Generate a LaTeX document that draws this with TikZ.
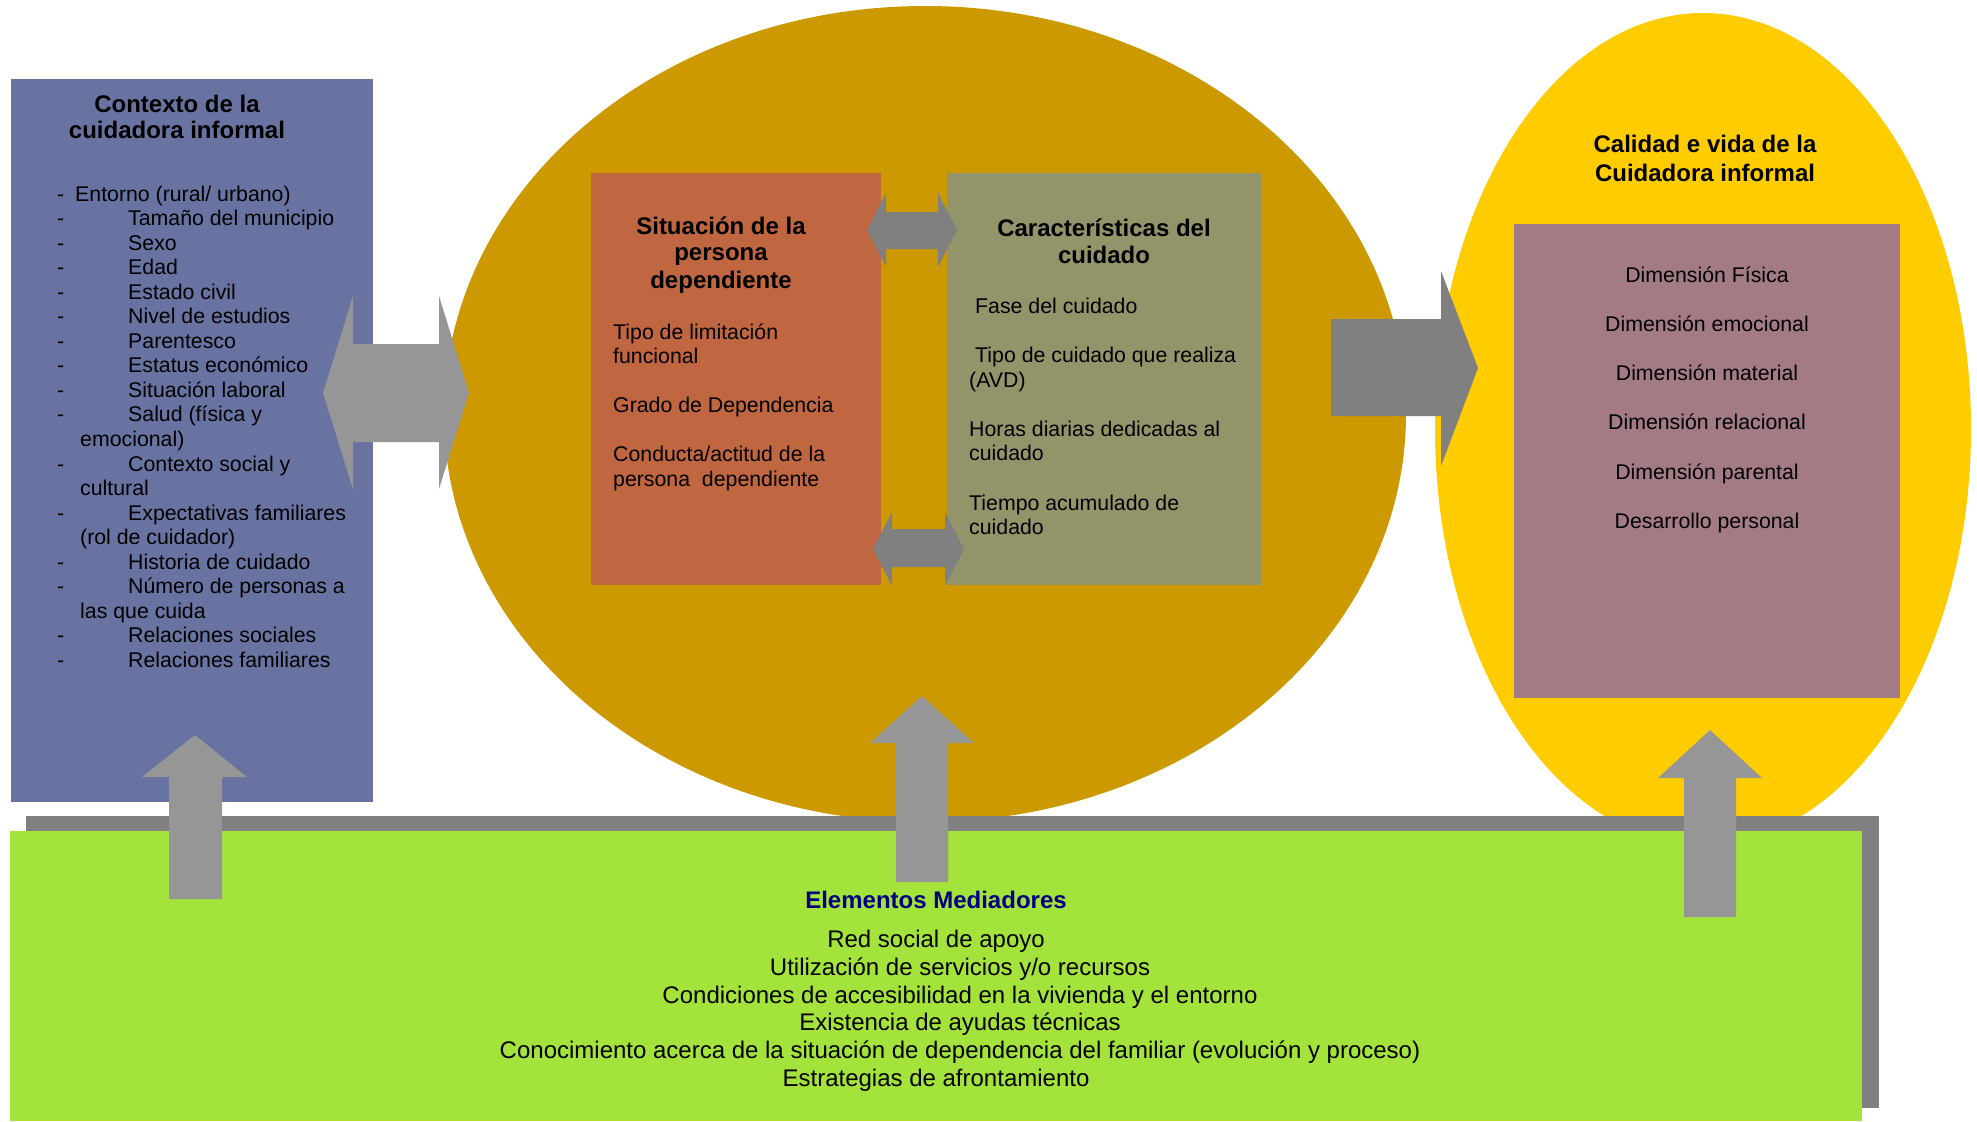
\documentclass[tikz,border=0pt]{standalone}
\usepackage{fontspec}
\setmainfont{Liberation Sans}
\definecolor{cblue}{HTML}{6973A1}
\definecolor{cochre}{HTML}{CC9900}
\definecolor{cyellow}{HTML}{FFCC00}
\definecolor{cmauve}{HTML}{A37B85}
\definecolor{corange}{HTML}{C06641}
\definecolor{colive}{HTML}{94946B}
\definecolor{cgreen}{HTML}{A3E33B}
\definecolor{cgreyA}{HTML}{969696}
\definecolor{cgreyB}{HTML}{808080}
\definecolor{cnavy}{HTML}{000080}
\tikzset{
  body/.style={font=\fontsize{21.3}{24}\selectfont, inner sep=0pt, anchor=base west},
  bodyc/.style={font=\fontsize{21.3}{24}\selectfont, inner sep=0pt, anchor=base},
  ttl/.style={font=\bfseries\fontsize{24}{27}\selectfont, inner sep=0pt, anchor=base},
  btm/.style={font=\fontsize{24}{27}\selectfont, inner sep=0pt, anchor=base},
  arrA/.style={fill=cgreyA, draw=none},
  arrB/.style={fill=cgreyB, draw=none},
}
\newcommand{\lstdash}[3]{%
  \node[body] (d#1) at (57,{201+24.55*#1}) {-};
  \node[body] (t#1) at (#2,{201+24.55*#1}) {#3};}
\newcommand{\lstcont}[2]{%
  \node[body] (t#1) at (80,{201+24.55*#1}) {#2};}
\begin{document}
\begin{tikzpicture}[x=1pt,y=-1pt]
\useasboundingbox (0,0) rectangle (1977,1121);
\fill[white] (0,0) rectangle (1977,1121);
% main shapes
\fill[cochre] (925,414) ellipse [x radius=481, y radius=408];
\fill[cyellow] (1703,429) ellipse [x radius=268, y radius=416];
\fill[cblue] (11,79) rectangle (373,802);
\fill[corange] (591,173) rectangle (881,585);
\fill[colive] (947,173) rectangle (1261,585);
\fill[cmauve] (1514,224) rectangle (1900,698);
% bottom box with shadow
\fill[cgreyB] (26,816) rectangle (1879,1108);
\fill[cgreen] (10,831) rectangle (1862,1121);
% left double arrow
\fill[arrA] (323,393) -- (353,296) -- (353,344) -- (439,344) -- (439,296) -- (469,393)
  -- (439,489) -- (439,442) -- (353,442) -- (353,489) -- cycle;
% small double arrows
\fill[arrB] (867,230) -- (886,193) -- (886,212) -- (938,212) -- (938,193) -- (957,230)
  -- (938,267) -- (938,249) -- (886,249) -- (886,267) -- cycle;
\fill[arrB] (873,549) -- (892,512) -- (892,529) -- (945,529) -- (945,512) -- (964,549)
  -- (945,586) -- (945,567) -- (892,567) -- (892,586) -- cycle;
% right arrow
\fill[arrB] (1331,319) -- (1441,319) -- (1441,271) -- (1478,368) -- (1441,466) -- (1441,416) -- (1331,416) -- cycle;
% up arrows
\fill[arrA] (195,735) -- (247,777) -- (222,777) -- (222,899) -- (169,899) -- (169,777) -- (142,777) -- cycle;
\fill[arrA] (922,696) -- (974,743) -- (948,743) -- (948,882) -- (896,882) -- (896,743) -- (870,743) -- cycle;
\fill[arrA] (1710,730) -- (1762,778) -- (1736,778) -- (1736,917) -- (1684,917) -- (1684,778) -- (1658,778) -- cycle;
% blue box text
\node[ttl] (bt1) at (177,113) {Contexto de la};
\node[ttl] (bt2) at (177,139) {cuidadora informal};
\lstdash{0}{75}{Entorno (rural/ urbano)}
\lstdash{1}{128}{Tamaño del municipio}
\lstdash{2}{128}{Sexo}
\lstdash{3}{128}{Edad}
\lstdash{4}{128}{Estado civil}
\lstdash{5}{128}{Nivel de estudios}
\lstdash{6}{128}{Parentesco}
\lstdash{7}{128}{Estatus económico}
\lstdash{8}{128}{Situación laboral}
\lstdash{9}{128}{Salud (física y}
\lstcont{10}{emocional)}
\lstdash{11}{128}{Contexto social y}
\lstcont{12}{cultural}
\lstdash{13}{128}{Expectativas familiares}
\lstcont{14}{(rol de cuidador)}
\lstdash{15}{128}{Historia de cuidado}
\lstdash{16}{128}{Número de personas a}
\lstcont{17}{las que cuida}
\lstdash{18}{128}{Relaciones sociales}
\lstdash{19}{128}{Relaciones familiares}
% orange box
\node[ttl] (ot1) at (721,234) {Situación de la};
\node[ttl] (ot2) at (721,260) {persona};
\node[ttl] (ot3) at (721,288) {dependiente};
\node[body] (o1) at (613,339) {Tipo de limitación};
\node[body] (o2) at (613,363) {funcional};
\node[body] (o3) at (613,412) {Grado de Dependencia};
\node[body] (o4) at (613,461) {Conducta/actitud de la};
\node[body] (o5) at (613,486) {persona\ \ dependiente};
% olive box
\node[ttl] (vt1) at (1104,236) {Características del};
\node[ttl] (vt2) at (1104,263) {cuidado};
\node[body] (v1) at (975,313) {Fase del cuidado};
\node[body] (v2) at (975,362) {Tipo de cuidado que realiza};
\node[body] (v3) at (969,387) {(AVD)};
\node[body] (v4) at (969,436) {Horas diarias dedicadas al};
\node[body] (v5) at (969,460) {cuidado};
\node[body] (v6) at (969,510) {Tiempo acumulado de};
\node[body] (v7) at (969,534) {cuidado};
% yellow ellipse
\node[ttl] (yt1) at (1705,152) {Calidad e vida de la};
\node[ttl] (yt2) at (1705,181) {Cuidadora informal};
\node[bodyc] (m1) at (1707,282) {Dimensión Física};
\node[bodyc] (m2) at (1707,331) {Dimensión emocional};
\node[bodyc] (m3) at (1707,380) {Dimensión material};
\node[bodyc] (m4) at (1707,429) {Dimensión relacional};
\node[bodyc] (m5) at (1707,479) {Dimensión parental};
\node[bodyc] (m6) at (1707,528) {Desarrollo personal};
% bottom box text
\node[ttl, text=cnavy] (gt) at (936,908) {Elementos Mediadores};
\node[btm] (g1) at (936,947) {Red social de apoyo};
\node[btm] (g2) at (960,975) {Utilización de servicios y/o recursos};
\node[btm] (g3) at (960,1003) {Condiciones de accesibilidad en la vivienda y el entorno};
\node[btm] (g4) at (960,1030) {Existencia de ayudas técnicas};
\node[btm] (g5) at (960,1058) {Conocimiento acerca de la situación de dependencia del familiar (evolución y proceso)};
\node[btm] (g6) at (936,1086) {Estrategias de afrontamiento};
\end{tikzpicture}
\end{document}
